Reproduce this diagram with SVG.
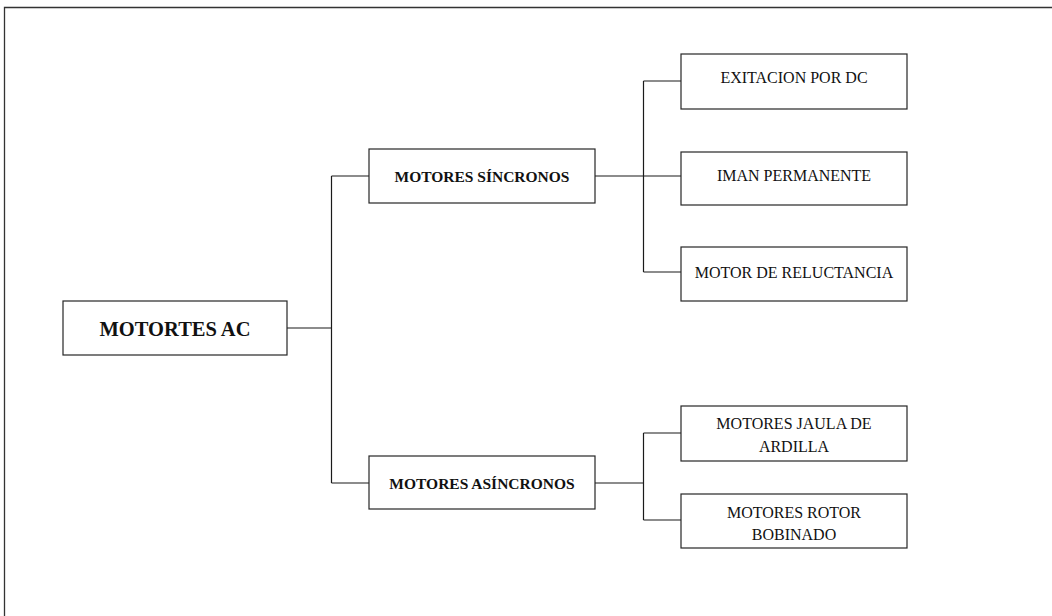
<svg xmlns="http://www.w3.org/2000/svg" width="1052" height="616" viewBox="0 0 1052 616">
<style>
.box{fill:#fff;stroke:#262626;stroke-width:1.2}
.ln{fill:none;stroke:#1a1a1a;stroke-width:1.2}
.frame{fill:none;stroke:#333;stroke-width:1.3}
text{font-family:"Liberation Serif","Times New Roman",serif;fill:#111;text-anchor:middle}
.root{font-size:20.5px;font-weight:bold}
.mid{font-size:15.5px;font-weight:bold}
.leaf{font-size:16px}
</style>
<rect width="1052" height="616" fill="#fff"/>
<path class="frame" d="M4.5,616 V7.5 H1052"/>
<g id="connectors">
<path class="ln" d="M287,328 H331.5 M331.5,176 V483 M331.5,176 H369 M331.5,483 H369"/>
<path class="ln" d="M595,176 H681 M643.5,81 V272 M643.5,81 H681 M643.5,272 H681"/>
<path class="ln" d="M595,483 H643.5 M643.5,433 V520 M643.5,433 H681 M643.5,520 H681"/>
</g>
<g id="n-root"><rect class="box" x="63" y="301" width="224" height="54"/><text class="root" x="175" y="336">MOTORTES AC</text></g>
<g id="n-sync"><rect class="box" x="369" y="149" width="226" height="54"/><text class="mid" x="482" y="181.5">MOTORES SÍNCRONOS</text></g>
<g id="n-async"><rect class="box" x="369" y="456" width="226" height="53"/><text class="mid" x="482" y="488.5">MOTORES ASÍNCRONOS</text></g>
<g id="n-dc"><rect class="box" x="681" y="54" width="226" height="55"/><text class="leaf" x="794" y="83">EXITACION POR DC</text></g>
<g id="n-iman"><rect class="box" x="681" y="152" width="226" height="53"/><text class="leaf" x="794" y="181">IMAN PERMANENTE</text></g>
<g id="n-rel"><rect class="box" x="681" y="247" width="226" height="54"/><text class="leaf" x="794" y="277.5">MOTOR DE RELUCTANCIA</text></g>
<g id="n-jaula"><rect class="box" x="681" y="406" width="226" height="55"/><text class="leaf" x="794" y="429">MOTORES JAULA DE</text><text class="leaf" x="794" y="452">ARDILLA</text></g>
<g id="n-rotor"><rect class="box" x="681" y="494" width="226" height="54"/><text class="leaf" x="794" y="518">MOTORES ROTOR</text><text class="leaf" x="794" y="540">BOBINADO</text></g>
</svg>
